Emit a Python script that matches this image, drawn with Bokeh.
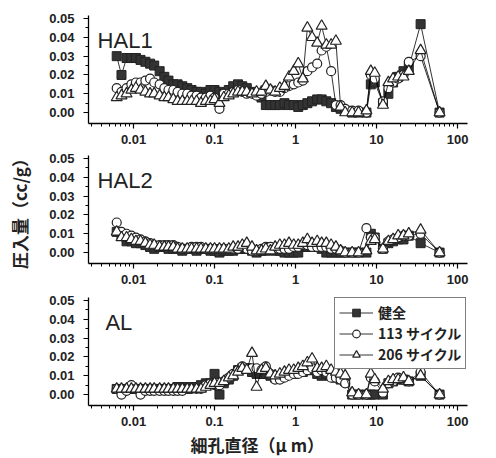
from bokeh.plotting import figure
from bokeh.layouts import column
from bokeh.models import (Range1d, Label, Legend, LegendItem, FixedTicker,
                          CustomJSTickFormatter, PrintfTickFormatter, Title)
from bokeh.embed import file_html
from bokeh.resources import INLINE

# pore diameter (µm)
diam = [0.0062, 0.0071, 0.0082, 0.0094, 0.0107, 0.0122, 0.014, 0.016, 0.018, 0.021,
        0.024, 0.027, 0.031, 0.035, 0.040, 0.046, 0.052, 0.060, 0.068, 0.078,
        0.089, 0.10, 0.115, 0.13, 0.15, 0.17, 0.195, 0.22, 0.25, 0.29,
        0.33, 0.38, 0.43, 0.49, 0.56, 0.64, 0.73, 0.83, 0.95, 1.08,
        1.23, 1.4, 1.6, 1.85, 2.1, 2.4, 2.75, 3.15, 3.6, 4.1,
        5.0, 6.0, 7.5, 8.5, 9.5, 12, 14, 16, 18.5, 21.5,
        25, 35, 60]

series_labels = ["健全", "113 サイクル", "206 サイクル"]
panel_names = ["HAL1", "HAL2", "AL"]

hal1_sound = [0.030, 0.020, 0.029, 0.029, 0.029, 0.028, 0.027, 0.026, 0.025, 0.022,
              0.019, 0.017, 0.015, 0.015, 0.014, 0.013, 0.012, 0.011, 0.011, 0.010,
              0.012, 0.012, 0.011, 0.010, 0.012, 0.014, 0.015, 0.014, 0.013, 0.011,
              0.010, 0.008, 0.004, 0.004, 0.004, 0.004, 0.005, 0.004, 0.004, 0.003,
              0.004, 0.005, 0.006, 0.007, 0.007, 0.006, 0.005, 0.003, 0.002, 0.001,
              0.000, 0.000, 0.000, 0.015, 0.016, 0.005, 0.010, 0.016, 0.019, 0.022,
              0.024, 0.047, 0.000]
hal1_113 = [0.013, 0.011, 0.013, 0.015, 0.016, 0.016, 0.017, 0.018, 0.016, 0.015,
            0.013, 0.012, 0.012, 0.011, 0.010, 0.010, 0.009, 0.009, 0.008, 0.008,
            0.009, 0.008, 0.002, 0.010, 0.010, 0.011, 0.012, 0.011, 0.010, 0.010,
            0.009, 0.010, 0.011, 0.012, 0.011, 0.011, 0.013, 0.014, 0.015, 0.016,
            0.017, 0.022, 0.024, 0.026, 0.033, 0.035, 0.022, 0.004, 0.004, 0.002,
            0.001, 0.001, 0.000, 0.020, 0.018, 0.006, 0.013, 0.016, 0.018, 0.020,
            0.027, 0.030, 0.000]
hal1_206 = [0.008, 0.009, 0.010, 0.012, 0.013, 0.012, 0.011, 0.010, 0.010, 0.009,
            0.008, 0.008, 0.007, 0.006, 0.006, 0.006, 0.006, 0.006, 0.005, 0.006,
            0.006, 0.007, 0.005, 0.008, 0.009, 0.010, 0.011, 0.011, 0.011, 0.010,
            0.011, 0.011, 0.014, 0.012, 0.011, 0.013, 0.014, 0.019, 0.022, 0.026,
            0.018, 0.045, 0.040, 0.037, 0.046, 0.036, 0.036, 0.038, 0.003, 0.000,
            0.000, 0.000, 0.001, 0.022, 0.021, 0.004, 0.016, 0.018, 0.019, 0.019,
            0.022, 0.033, 0.000]

hal2_sound = [0.011, 0.009, 0.006, 0.006, 0.005, 0.005, 0.004, 0.003, 0.002, 0.003,
              0.003, 0.002, 0.002, 0.002, 0.001, 0.002, 0.002, 0.001, 0.002, 0.002,
              0.001, 0.001, 0.000, 0.001, 0.001, 0.001, 0.002, 0.002, 0.002, 0.001,
              0.000, 0.001, 0.001, 0.002, 0.001, 0.001, 0.000, 0.000, 0.000, 0.000,
              0.003, 0.003, 0.003, 0.003, 0.002, 0.000, 0.000, 0.000, 0.000, 0.000,
              0.000, 0.000, 0.000, 0.010, 0.008, 0.002, 0.005, 0.006, 0.007, 0.007,
              0.009, 0.005, 0.000]
hal2_113 = [0.016, 0.011, 0.010, 0.009, 0.008, 0.007, 0.006, 0.005, 0.004, 0.004,
            0.004, 0.004, 0.004, 0.003, 0.002, 0.002, 0.003, 0.003, 0.003, 0.002,
            0.002, 0.002, 0.002, 0.002, 0.002, 0.002, 0.002, 0.003, 0.002, 0.001,
            0.001, 0.002, 0.003, 0.003, 0.002, 0.002, 0.002, 0.002, 0.003, 0.003,
            0.004, 0.004, 0.003, 0.003, 0.003, 0.003, 0.002, 0.002, 0.001, 0.000,
            0.000, 0.000, 0.013, 0.008, 0.008, 0.002, 0.006, 0.007, 0.008, 0.009,
            0.009, 0.010, 0.000]
hal2_206 = [0.011, 0.008, 0.008, 0.007, 0.006, 0.006, 0.005, 0.004, 0.004, 0.003,
            0.003, 0.003, 0.003, 0.002, 0.002, 0.002, 0.002, 0.002, 0.002, 0.002,
            0.002, 0.002, 0.002, 0.002, 0.002, 0.003, 0.003, 0.004, 0.005, 0.003,
            0.001, 0.001, 0.002, 0.001, 0.003, 0.004, 0.004, 0.005, 0.004, 0.004,
            0.005, 0.007, 0.005, 0.006, 0.005, 0.005, 0.004, 0.003, 0.001, 0.000,
            0.000, 0.000, 0.001, 0.006, 0.007, 0.002, 0.006, 0.007, 0.009, 0.009,
            0.010, 0.012, 0.000]

al_sound = [0.003, 0.003, 0.003, 0.003, 0.003, 0.003, 0.003, 0.003, 0.003, 0.003,
            0.003, 0.003, 0.003, 0.004, 0.004, 0.003, 0.004, 0.004, 0.005, 0.006,
            0.006, 0.011, 0.000, 0.006, 0.008, 0.010, 0.013, 0.014, 0.014, 0.012,
            0.011, 0.011, 0.011, 0.010, 0.009, 0.009, 0.010, 0.011, 0.011, 0.012,
            0.012, 0.013, 0.013, 0.011, 0.010, 0.011, 0.010, 0.009, 0.008, 0.007,
            0.000, 0.000, 0.000, 0.000, 0.000, 0.000, 0.006, 0.007, 0.008, 0.008,
            0.007, 0.010, 0.000]
al_113 = [0.003, 0.000, 0.002, 0.005, 0.003, 0.000, 0.002, 0.002, 0.002, 0.002,
          0.002, 0.002, 0.002, 0.002, 0.002, 0.003, 0.003, 0.003, 0.003, 0.005,
          0.006, 0.005, 0.005, 0.007, 0.009, 0.011, 0.013, 0.015, 0.014, 0.014,
          0.014, 0.013, 0.015, 0.011, 0.008, 0.008, 0.009, 0.010, 0.011, 0.011,
          0.012, 0.013, 0.014, 0.012, 0.013, 0.012, 0.009, 0.009, 0.008, 0.006,
          0.000, 0.000, 0.000, 0.009, 0.007, 0.001, 0.006, 0.007, 0.009, 0.008,
          0.007, 0.012, 0.000]
al_206 = [0.003, 0.003, 0.003, 0.003, 0.003, 0.003, 0.003, 0.003, 0.003, 0.003,
          0.003, 0.003, 0.003, 0.003, 0.003, 0.003, 0.003, 0.003, 0.003, 0.004,
          0.005, 0.006, 0.006, 0.007, 0.009, 0.010, 0.012, 0.014, 0.013, 0.022,
          0.004, 0.013, 0.014, 0.011, 0.010, 0.011, 0.012, 0.013, 0.013, 0.014,
          0.015, 0.017, 0.019, 0.014, 0.014, 0.015, 0.013, 0.012, 0.011, 0.010,
          0.001, 0.000, 0.000, 0.011, 0.008, 0.003, 0.007, 0.008, 0.008, 0.009,
          0.007, 0.010, 0.000]

y_ticks = [0.00, 0.01, 0.02, 0.03, 0.04, 0.05]
x_ticks = [0.01, 0.1, 1, 10, 100]

FONT = "Liberation Sans"
CJK = "Noto Sans CJK JP"


def make_panel(name, s, c, t, top, bottom, name_x, ylabel=None, xtitle=None, legend=False):
    p = figure(frame_width=379, frame_height=108, x_axis_type="log",
               x_range=Range1d(0.00278, 132.7), y_range=Range1d(-0.0058, 0.0516),
               output_backend="svg", toolbar_location=None,
               min_border_left=88, min_border_right=16,
               min_border_top=top, min_border_bottom=bottom)
    p.outline_line_color = None
    p.grid.visible = False
    p.background_fill_color = "white"
    p.border_fill_color = "white"

    minor_x = [k * 10.0 ** d for d in range(-3, 3) for k in range(2, 10)]
    p.xaxis.ticker = FixedTicker(ticks=x_ticks, minor_ticks=minor_x)
    p.xaxis.formatter = CustomJSTickFormatter(code="return tick.toString();")
    p.yaxis.ticker = FixedTicker(ticks=y_ticks,
                                 minor_ticks=[0.005, 0.015, 0.025, 0.035, 0.045])
    p.yaxis.formatter = PrintfTickFormatter(format="%.2f")

    for ax in (p.xaxis, p.yaxis):
        ax.axis_line_color = "black"
        ax.axis_line_width = 1.3
        ax.major_tick_line_color = "black"
        ax.minor_tick_line_color = "black"
        ax.major_tick_line_width = 1.2
        ax.major_tick_in = 0
        ax.major_tick_out = 5
        ax.minor_tick_in = 0
        ax.minor_tick_out = 3
        ax.major_label_text_font = FONT
        ax.major_label_text_font_size = "13px"
        ax.major_label_text_font_style = "bold"
        ax.major_label_text_color = "#222222"
    p.xaxis.major_label_standoff = 6
    p.yaxis.major_label_standoff = 9

    if ylabel:
        p.yaxis.axis_label = ylabel
        p.yaxis.axis_label_text_font = CJK
        p.yaxis.axis_label_text_font_size = "17px"
        p.yaxis.axis_label_text_font_style = "bold"
        p.yaxis.axis_label_text_color = "#222222"
        p.yaxis.axis_label_standoff = 14

    r1l = p.line(diam, s, line_color="black", line_width=0.8)
    r1m = p.scatter(diam, s, marker="square", size=9, fill_color="#333333",
                    line_color="#222222", line_width=1)
    r2l = p.line(diam, c, line_color="black", line_width=0.8)
    r2m = p.scatter(diam, c, marker="circle", size=9, fill_color="white",
                    line_color="#222222", line_width=1.2)
    r3l = p.line(diam, t, line_color="black", line_width=0.8)
    r3m = p.scatter(diam, t, marker="triangle", size=11, fill_color="white",
                    line_color="#222222", line_width=1.2)

    p.add_layout(Label(x=name_x, y=0.0383, text=name, text_font=FONT,
                       text_font_size="22px", text_color="#222222",
                       text_baseline="alphabetic"))

    if xtitle:
        p.add_layout(Title(text=xtitle, align="left", offset=102, standoff=2,
                           text_font=CJK, text_font_size="17px",
                           text_font_style="bold", text_color="#222222"), "below")

    if legend:
        lg = Legend(items=[LegendItem(label=series_labels[0], renderers=[r1l, r1m]),
                           LegendItem(label=series_labels[1], renderers=[r2l, r2m]),
                           LegendItem(label=series_labels[2], renderers=[r3l, r3m])],
                    location=(246, 36), orientation="vertical",
                    glyph_width=34, glyph_height=19, label_height=19,
                    label_standoff=5, spacing=1, padding=4, margin=0,
                    label_text_font=CJK, label_text_font_size="14px",
                    label_text_font_style="bold", label_text_color="#222222",
                    border_line_color="black", border_line_width=1.2,
                    background_fill_color="white", background_fill_alpha=1.0)
        p.add_layout(lg, "center")
    return p


p1 = make_panel(panel_names[0], hal1_sound, hal1_113, hal1_206, 15, 28, 0.0036)
p2 = make_panel(panel_names[1], hal2_sound, hal2_113, hal2_206, 4, 28, 0.0036,
                ylabel="圧入量（cc/g）")
p3 = make_panel(panel_names[2], al_sound, al_113, al_206, 6, 48, 0.0045,
                xtitle="細孔直径（μ m）", legend=True)

layout = column(p1, p2, p3, spacing=0)
open("out.html", "w").write(file_html(layout, INLINE))
